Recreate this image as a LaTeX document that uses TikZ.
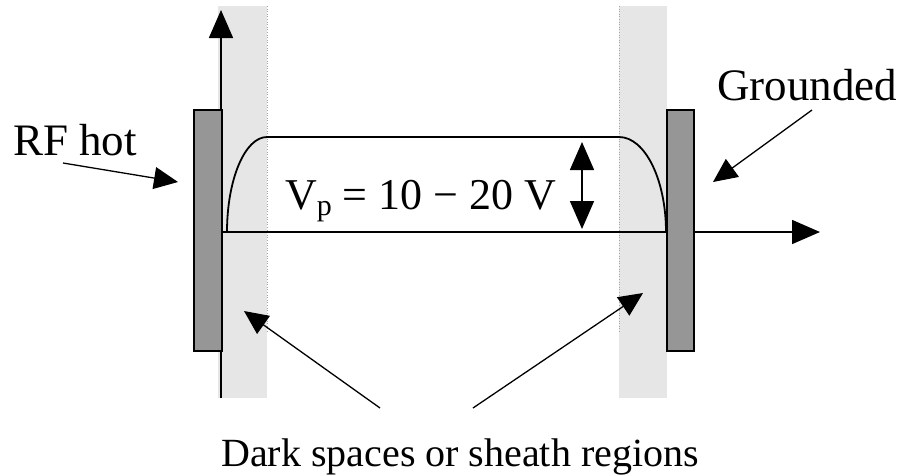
\documentclass[tikz,border=0pt]{standalone}
\usepackage{fontspec}
\setmainfont{Liberation Serif}
\usetikzlibrary{arrows.meta}
\definecolor{bandgray}{RGB}{230,230,230}
\definecolor{elgray}{RGB}{150,150,150}
\begin{document}
\begin{tikzpicture}[x=1pt,y=-1pt,
  band/.style={fill=bandgray,draw=none},
  sheathedge/.style={draw=gray!70,line width=0.6pt,dotted},
  electrode/.style={fill=elgray,draw=black,line width=1.5pt},
  axis/.style={line width=1.6pt,-{Triangle[length=28pt,width=24pt]}},
  pointer/.style={line width=1.3pt,-{Triangle[length=24pt,width=22pt]}},
  potential/.style={line width=1.8pt},
  lbl/.style={inner sep=0pt,anchor=base west,font=\fontsize{44}{44}\selectfont}]
\useasboundingbox (0,0) rectangle (904,475);
% sheath bands
\fill[band] (218,6) rectangle (267,398);
\fill[band] (619,6) rectangle (667,398);
\draw[sheathedge] (267,6) -- (267,333);
\draw[sheathedge] (619,6) -- (619,333);
% axes
\coordinate (origin) at (221,232);
\coordinate (ybot) at (221,398);
\coordinate (ytop) at (221,10);
\coordinate (xend) at (820,232);
\draw[axis] (ybot) -- (ytop);
\draw[axis] (origin) -- (xend);
% potential profile
\coordinate (pl) at (227,232);
\coordinate (pr) at (666,232);
\draw[potential] (pl) arc[start angle=180,end angle=90,x radius=40,y radius=-95]
  -- (619,137) arc[start angle=90,end angle=0,x radius=47,y radius=-95];
% electrodes
\draw[electrode] (194,110) rectangle (222,351);
\draw[electrode] (667,110) rectangle (694,351);
% Vp double arrow
\coordinate (vtop) at (582,142);
\coordinate (vbot) at (582,229);
\draw[line width=1.6pt,{Triangle[length=28pt,width=24pt]}-{Triangle[length=28pt,width=24pt]}] (vtop) -- (vbot);
% labels
\node[lbl,font=\fontsize{45}{45}\selectfont] (rf) at (13,155) {RF hot};
\node[lbl,font=\fontsize{45}{45}\selectfont] (gnd) at (717,100) {Grounded};
\node[lbl] (vp) at (285,209) {V\raisebox{-6pt}{\fontsize{30}{30}\selectfont p} = 10 − 20 V};
\node[lbl,font=\fontsize{40}{40}\selectfont] (dark) at (221,466) {Dark spaces or sheath regions};
% pointers
\coordinate (rfs) at (63,163);
\coordinate (rft) at (178,182);
\coordinate (gs) at (812,110);
\coordinate (gt) at (713,182);
\coordinate (d1s) at (380,408);
\coordinate (d1t) at (244,311);
\coordinate (d2s) at (473,408);
\coordinate (d2t) at (643,293);
\draw[pointer] (rfs) -- (rft);
\draw[pointer] (gs) -- (gt);
\draw[pointer] (d1s) -- (d1t);
\draw[pointer] (d2s) -- (d2t);
\end{tikzpicture}
\end{document}
